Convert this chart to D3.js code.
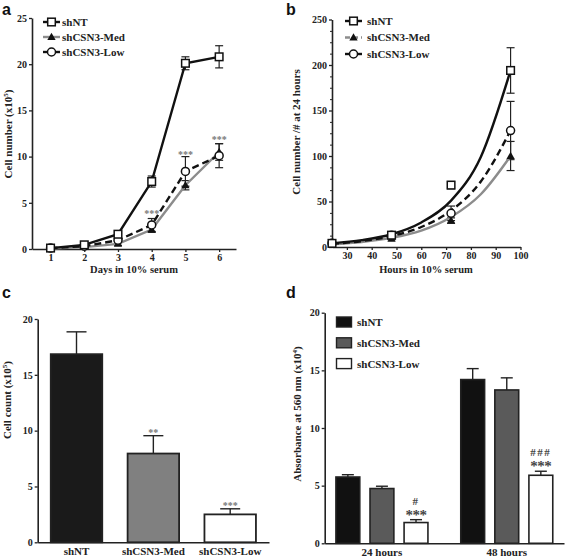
<!DOCTYPE html>
<html><head><meta charset="utf-8">
<script src="https://cdn.jsdelivr.net/npm/d3@7"></script>
<style>
body{margin:0;background:#fff;}
text{font-family:"Liberation Serif","Times New Roman",serif;font-weight:bold;fill:#222;}
.plabel{font-family:"Liberation Sans",Arial,sans-serif;font-size:16px;fill:#111;}
</style></head>
<body>
<svg id="chart" width="567" height="558"></svg>
<script>
// ---------- Panel a data ----------
const daysA = [1, 2, 3, 4, 5, 6];
const aShNT = [0.1, 0.45, 1.6, 7.3, 20.1, 20.8];
const aShNTErr = [0.1, 0.15, 0.2, 0.6, 0.7, 1.2];
const aMed = [0.05, 0.2, 0.55, 2.1, 6.9, 10.5];
const aMedErr = [0.05, 0.1, 0.15, 0.3, 0.5, 0.9];
const aLow = [0.1, 0.3, 0.95, 2.6, 8.4, 10.1];
const aLowErr = [0.05, 0.1, 0.15, 0.7, 1.6, 1.3];
const aTicksX = [1, 2, 3, 4, 5, 6];
const aTicksY = [0, 5, 10, 15, 20, 25];
const aStars = [{day: 4, y: 3.5, t: "***"}, {day: 5, y: 9.9, t: "***"}, {day: 6, y: 11.5, t: "***"}];

// ---------- Panel b data ----------
const hoursB = [24, 48, 72, 96];
const bShNT = [4, 13, 68, 194];
const bShNTErr = [1, 2, 4, 25];
const bMed = [3, 9, 29, 100];
const bMedErr = [0.5, 1, 3, 16];
const bLow = [4, 13, 37, 128];
const bLowErr = [1, 2, 8, 32];
// fitted curves
const fitHours = [24, 36, 48, 60, 72, 84, 96];
const fitShNT = [4, 7.5, 14, 27, 51, 99, 194];
const fitMed = [3, 5.5, 10, 18, 33, 58, 100];
const fitLow = [3.5, 6.5, 12, 22, 40, 72, 128];
const bTicksX = [30, 40, 50, 60, 70, 80, 90, 100];
const bTicksY = [0, 50, 100, 150, 200, 250];

// ---------- Panel c data ----------
const cCats = ["shNT", "shCSN3-Med", "shCSN3-Low"];
const cVals = [16.85, 7.95, 2.5];
const cErrs = [2.0, 1.6, 0.5];
const cSig = ["", "**", "***"];
const cTicksY = [0, 5, 10, 15, 20];

// ---------- Panel d data ----------
const dGroups = ["24 hours", "48 hours"];
const dSeries = ["shNT", "shCSN3-Med", "shCSN3-Low"];
const dVals = [[5.75, 4.75, 1.8], [14.2, 13.3, 5.9]];
const dErrs = [[0.2, 0.2, 0.25], [0.95, 1.05, 0.35]];
const dSig = [["", "", "***"], ["", "", "***"]];
const dHash = [["", "", "#"], ["", "", "###"]];
const dTicksY = [0, 5, 10, 15, 20];

const seriesNames = ["shNT", "shCSN3-Med", "shCSN3-Low"];
const barFills = ["#1a1a1a", "#808080", "#ffffff"];
const dFills = ["#111111", "#5a5a5a", "#ffffff"];

const svg = d3.select("#chart");
const INK = "#222";

function styleAxis(g) {
  g.selectAll("path.domain").attr("stroke", INK).attr("stroke-width", 1.6);
  g.selectAll(".tick line").attr("stroke", INK).attr("stroke-width", 1.3);
  g.selectAll(".tick text").attr("font-size", 10).attr("font-family", '"Liberation Serif",serif').attr("font-weight", "bold").attr("fill", INK);
}

function yLabel(x, y, parts) {
  const t = svg.append("text").attr("transform", `translate(${x},${y}) rotate(-90)`).attr("text-anchor", "middle").attr("font-size", 11);
  parts.forEach(p => {
    const s = t.append("tspan").text(p.t);
    if (p.sup) s.attr("baseline-shift", "super").attr("font-size", 7);
  });
}

function drawMarker(type, cx, cy) {
  if (type === "sq") {
    svg.append("rect").attr("x",cx-3.8).attr("y",cy-3.8).attr("width",7.6).attr("height",7.6).attr("fill","#fff").attr("stroke","#111").attr("stroke-width",1.5);
  } else if (type === "circ") {
    svg.append("circle").attr("cx",cx).attr("cy",cy).attr("r",4).attr("fill","#fff").attr("stroke","#111").attr("stroke-width",1.5);
  } else {
    svg.append("path").attr("d", d3.symbol(d3.symbolTriangle, 30)()).attr("transform",`translate(${cx},${cy+0.5})`).attr("fill","#111");
  }
}

// ================= Panel a =================
(function(){
  const x = d3.scaleLinear().domain([0.45, 6.5]).range([32, 236]);
  const y = d3.scaleLinear().domain([0, 25]).range([249, 18]);
  svg.append("g").attr("transform", "translate(0,249)")
    .call(d3.axisBottom(x).tickValues(aTicksX).tickFormat(d3.format("d")).tickSize(3).tickPadding(2).tickSizeOuter(0)).call(styleAxis);
  svg.append("g").attr("transform", "translate(32,0)")
    .call(d3.axisLeft(y).tickValues(aTicksY).tickSize(3).tickPadding(2).tickSizeOuter(0)).call(styleAxis);

  const series = [
    {v: aMed, e: aMedErr, color: "#8c8c8c", dash: null, m: "tri"},
    {v: aLow, e: aLowErr, color: "#111", dash: "7,4", m: "circ"},
    {v: aShNT, e: aShNTErr, color: "#111", dash: null, m: "sq"}
  ];
  const line = d3.line().x((d,i)=>x(daysA[i])).y(d=>y(d));
  series.forEach(s => {
    s.v.forEach((v,i) => {
      const cx = x(daysA[i]);
      svg.append("line").attr("x1",cx).attr("x2",cx).attr("y1",y(v+s.e[i])).attr("y2",y(Math.max(0,v-s.e[i]))).attr("stroke","#222").attr("stroke-width",1.2);
      [v+s.e[i], Math.max(0,v-s.e[i])].forEach(yy => svg.append("line").attr("x1",cx-4).attr("x2",cx+4).attr("y1",y(yy)).attr("y2",y(yy)).attr("stroke","#222").attr("stroke-width",1.2));
    });
    svg.append("path").datum(s.v).attr("d", line).attr("fill","none").attr("stroke", s.color).attr("stroke-width", 2.4).attr("stroke-dasharray", s.dash);
  });
  series.forEach(s => s.v.forEach((v,i) => drawMarker(s.m, x(daysA[i]), y(v))));
  aStars.forEach(st => svg.append("text").attr("x", x(st.day)).attr("y", y(st.y)).attr("text-anchor","middle").attr("font-size", 10).style("fill","#777").text(st.t));

  const leg = [{c:"#111", m:"sq"},{c:"#8c8c8c", m:"tri"},{c:"#111", m:"circ"}];
  leg.forEach((l,i) => {
    const yy = 22 + i*15;
    svg.append("line").attr("x1",43).attr("x2",60).attr("y1",yy).attr("y2",yy).attr("stroke",l.c).attr("stroke-width",2.4);
    drawMarker(l.m, 51.5, yy);
    svg.append("text").attr("x",62).attr("y",yy+3.5).attr("font-size",11).text(seriesNames[i]);
  });
  svg.append("text").attr("x", 134).attr("y", 273).attr("text-anchor","middle").attr("font-size",10.5).text("Days in 10% serum");
  yLabel(12, 134, [{t:"Cell number (x10"},{t:"5",sup:true},{t:")"}]);
  svg.append("text").attr("class","plabel").attr("x",2).attr("y",15).text("a");
})();

// ================= Panel b =================
(function(){
  const x = d3.scaleLinear().domain([24, 100]).range([332, 520.5]);
  const y = d3.scaleLinear().domain([0, 250]).range([247, 19.5]);
  svg.append("g").attr("transform", "translate(0,247)")
    .call(d3.axisBottom(x).tickValues(bTicksX).tickSize(3).tickPadding(2).tickSizeOuter(0)).call(styleAxis);
  svg.append("g").attr("transform", "translate(332,0)")
    .call(d3.axisLeft(y).tickValues(bTicksY).tickSize(3).tickPadding(2).tickSizeOuter(0)).call(styleAxis);
  svg.append("g").attr("transform", "translate(332,0)")
    .call(d3.axisLeft(y).tickValues(d3.range(0, 251, 12.5).filter(v=>v%50!==0)).tickSize(2).tickFormat("").tickSizeOuter(0))
    .call(g=>{g.select(".domain").remove(); g.selectAll("line").attr("stroke",INK);});

  const line = d3.line().x((d,i)=>x(fitHours[i])).y(d=>y(d)).curve(d3.curveMonotoneX);
  const fits = [
    {v: fitMed, color:"#8c8c8c", dash:null},
    {v: fitLow, color:"#111", dash:"7,4"},
    {v: fitShNT, color:"#111", dash:null}
  ];
  const pts = [
    {v:bMed, e:bMedErr, m:"tri"},
    {v:bLow, e:bLowErr, m:"circ"},
    {v:bShNT, e:bShNTErr, m:"sq"}
  ];
  pts.forEach(s => {
    s.v.forEach((v,i) => {
      const cx = x(hoursB[i]);
      svg.append("line").attr("x1",cx).attr("x2",cx).attr("y1",y(v+s.e[i])).attr("y2",y(Math.max(0,v-s.e[i]))).attr("stroke","#222").attr("stroke-width",1.2);
      [v+s.e[i], Math.max(0,v-s.e[i])].forEach(yy => svg.append("line").attr("x1",cx-4).attr("x2",cx+4).attr("y1",y(yy)).attr("y2",y(yy)).attr("stroke","#222").attr("stroke-width",1.2));
    });
  });
  fits.forEach(f => svg.append("path").datum(f.v).attr("d", line).attr("fill","none").attr("stroke", f.color).attr("stroke-width", 2.4).attr("stroke-dasharray", f.dash));
  pts.forEach(s => s.v.forEach((v,i) => drawMarker(s.m, x(hoursB[i]), y(v))));

  const leg = [{c:"#111", d:null, m:"sq"},{c:"#8c8c8c", d:"5,3", m:"tri"},{c:"#111", d:null, m:"circ"}];
  leg.forEach((l,i) => {
    const yy = 21 + i*16.5;
    svg.append("line").attr("x1",345).attr("x2",362).attr("y1",yy).attr("y2",yy).attr("stroke",l.c).attr("stroke-width",2.4).attr("stroke-dasharray",l.d);
    drawMarker(l.m, 353.5, yy);
    svg.append("text").attr("x",367).attr("y",yy+3.5).attr("font-size",11).text(seriesNames[i]);
  });
  svg.append("text").attr("x", 426).attr("y", 273).attr("text-anchor","middle").attr("font-size",10.5).text("Hours in 10% serum");
  yLabel(300, 132, [{t:"Cell number /# at 24 hours"}]);
  svg.append("text").attr("class","plabel").attr("x",286).attr("y",15).text("b");
})();

// ================= Panel c =================
(function(){
  const x = d3.scaleBand().domain(cCats).range([37.7, 269]).paddingInner(0.33).paddingOuter(0.17);
  const y = d3.scaleLinear().domain([0, 20]).range([542.3, 319]);
  svg.append("g").attr("transform", "translate(37.7,0)")
    .call(d3.axisLeft(y).tickValues(cTicksY).tickSize(3).tickPadding(2).tickSizeOuter(0)).call(styleAxis);
  cCats.forEach((c,i) => {
    const bx = x(c), bw = x.bandwidth(), cx = bx + bw/2;
    const top = y(cVals[i]+cErrs[i]);
    svg.append("line").attr("x1",cx).attr("x2",cx).attr("y1",top).attr("y2",y(cVals[i])).attr("stroke","#222").attr("stroke-width",1.4);
    svg.append("line").attr("x1",cx-10).attr("x2",cx+10).attr("y1",top).attr("y2",top).attr("stroke","#222").attr("stroke-width",1.4);
    svg.append("rect").attr("x",bx).attr("y",y(cVals[i])).attr("width",bw).attr("height",y(0)-y(cVals[i]))
      .attr("fill",barFills[i]).attr("stroke","#222").attr("stroke-width",1.8);
    if (cSig[i]) svg.append("text").attr("x",cx).attr("y",top).attr("text-anchor","middle").attr("font-size",10).style("fill","#777").text(cSig[i]);
  });
  svg.append("g").attr("transform", "translate(0,542.3)")
    .call(d3.axisBottom(x).tickSize(0).tickPadding(5).tickSizeOuter(0)).call(styleAxis)
    .call(g=>g.selectAll(".tick text").attr("font-size",11));
  yLabel(11, 400, [{t:"Cell count (x10"},{t:"5",sup:true},{t:")"}]);
  svg.append("text").attr("class","plabel").attr("x",2).attr("y",298).text("c");
})();

// ================= Panel d =================
(function(){
  const x0 = d3.scaleBand().domain(dGroups).range([324.7, 564]).paddingInner(0.263).paddingOuter(0.09);
  const x1 = d3.scaleBand().domain(dSeries).range([0, x0.bandwidth()]).paddingInner(0.3).paddingOuter(0);
  const y = d3.scaleLinear().domain([0, 20]).range([543.3, 312.7]);
  svg.append("g").attr("transform", "translate(324.7,0)")
    .call(d3.axisLeft(y).tickValues(dTicksY).tickSize(3).tickPadding(2).tickSizeOuter(0)).call(styleAxis);
  dGroups.forEach((gname, gi) => {
    dSeries.forEach((s, si) => {
      const bx = x0(gname) + x1(s), bw = x1.bandwidth(), cx = bx + bw/2;
      const v = dVals[gi][si], e = dErrs[gi][si];
      const top = y(v+e);
      svg.append("line").attr("x1",cx).attr("x2",cx).attr("y1",top).attr("y2",y(v)).attr("stroke","#222").attr("stroke-width",1.4);
      svg.append("line").attr("x1",cx-6).attr("x2",cx+6).attr("y1",top).attr("y2",top).attr("stroke","#222").attr("stroke-width",1.4);
      svg.append("rect").attr("x",bx).attr("y",y(v)).attr("width",bw).attr("height",y(0)-y(v))
        .attr("fill",dFills[si]).attr("stroke","#222").attr("stroke-width",1.6);
      if (dSig[gi][si]) svg.append("text").attr("x",cx).attr("y",top).attr("text-anchor","middle").attr("font-size",15).attr("letter-spacing",-0.5).style("fill","#444").text(dSig[gi][si]);
      if (dHash[gi][si]) svg.append("text").attr("x",cx).attr("y",top-15).attr("text-anchor","middle").attr("font-size",11).attr("letter-spacing",1.5).style("fill","#444").text(dHash[gi][si]);
    });
  });
  svg.append("g").attr("transform", "translate(0,543.3)")
    .call(d3.axisBottom(x0).tickSize(0).tickPadding(5).tickSizeOuter(0)).call(styleAxis)
    .call(g=>g.selectAll(".tick text").attr("font-size",11));
  dSeries.forEach((s,i) => {
    const yy = 322 + i*20.8;
    svg.append("rect").attr("x",336.5).attr("y",yy-5).attr("width",15).attr("height",10).attr("fill",dFills[i]).attr("stroke","#222").attr("stroke-width",1.4);
    svg.append("text").attr("x",357).attr("y",yy+4).attr("font-size",11).text(s);
  });
  yLabel(301, 414, [{t:"Absorbance at 560 nm (x10"},{t:"4",sup:true},{t:")"}]);
  svg.append("text").attr("class","plabel").attr("x",286).attr("y",298).text("d");
})();
</script>
</body></html>
